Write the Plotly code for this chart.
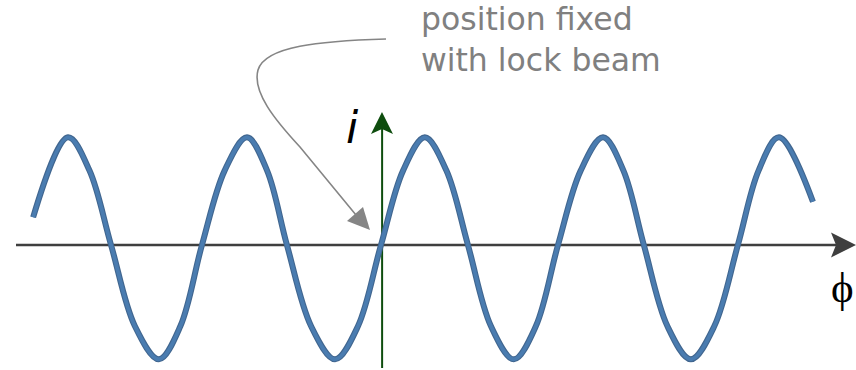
import plotly.graph_objects as go

W, H = 856, 370

# Signal i versus phase phi (rad)
phase = [-12.28, -11.05, -10.29, -9.53, -8.69, -7.84, -7.08, -6.32, -5.52, -4.73,
         -4.02, -3.32, -2.47, -1.62, -0.81, 0.0, 0.78, 1.55, 2.31, 3.07,
         3.88, 4.69, 5.47, 6.25, 7.05, 7.84, 8.56, 9.28, 10.11, 10.94,
         11.77, 12.60, 13.33, 14.05, 15.25]
signal = [0.25, 0.97, 0.67, 0.0, -0.73, -1.03, -0.73, 0.0, 0.67, 0.97,
          0.67, 0.0, -0.73, -1.03, -0.73, 0.0, 0.67, 0.97, 0.67, 0.0,
          -0.73, -1.03, -0.73, 0.0, 0.67, 0.97, 0.67, 0.0, -0.73, -1.03,
          -0.73, 0.0, 0.67, 0.97, 0.39]

X_RANGE = [-13.45, 16.77]
Y_RANGE = [-1.126, 2.207]

AXIS_GRAY = "#3f3f3f"
GREEN = "#0e4d0e"
POINTER_GRAY = "#858585"
TEXT_GRAY = "#808080"


def px(x, y):
    """pixel position -> paper fraction (plot area fills the figure)"""
    return x / W, 1 - y / H


def path(points, close=True):
    s = ""
    for k, (x, y) in enumerate(points):
        fx, fy = px(x, y)
        s += ("M" if k == 0 else "L") + f"{fx:.5f},{fy:.5f} "
    return s + ("Z" if close else "")


def bezier_path(segments):
    s = ""
    for seg in segments:
        cmd, pts = seg[0], seg[1:]
        s += cmd + " " + " ".join(f"{px(x, y)[0]:.5f},{px(x, y)[1]:.5f}" for x, y in pts) + " "
    return s


fig = go.Figure()
fig.add_trace(go.Scatter(x=phase, y=signal, mode="lines",
                         line=dict(color="#41668f", width=6, shape="spline", smoothing=1.0),
                         hoverinfo="skip", showlegend=False))
fig.add_trace(go.Scatter(x=phase, y=signal, mode="lines",
                         line=dict(color="#4a7cb0", width=3.8, shape="spline", smoothing=1.0),
                         hoverinfo="skip", showlegend=False))

shapes = []
# horizontal axis
shapes.append(dict(type="line", xref="paper", yref="y", x0=16 / W, x1=838 / W, y0=0, y1=0,
                   line=dict(color=AXIS_GRAY, width=2.5), layer="below"))
shapes.append(dict(type="path", xref="paper", yref="paper",
                   path=path([(831, 232.5), (856, 245), (831, 257.5), (836, 245)]),
                   fillcolor=AXIS_GRAY, line=dict(width=0)))
# vertical axis
shapes.append(dict(type="line", xref="x", yref="paper", x0=0.04, x1=0.04, y0=1 - 368 / H, y1=1 - 128 / H,
                   line=dict(color=GREEN, width=2), layer="below"))
shapes.append(dict(type="path", xref="paper", yref="paper",
                   path=path([(382, 112), (393, 134), (382, 129), (371, 134)]),
                   fillcolor=GREEN, line=dict(width=0)))
# curved pointer
shapes.append(dict(type="path", xref="paper", yref="paper",
                   path=bezier_path([("M", (386, 39)),
                                     ("C", (320, 41), (265, 46), (258, 70)),
                                     ("C", (252, 92), (275, 120), (300, 147)),
                                     ("L", (356, 215))]),
                   line=dict(color=POINTER_GRAY, width=1.6)))
shapes.append(dict(type="path", xref="paper", yref="paper",
                   path=path([(370, 230), (347, 221), (363, 207)]),
                   fillcolor=POINTER_GRAY, line=dict(width=0)))

annotations = [
    dict(text="position fixed<br>with lock beam", xref="paper", yref="paper",
         x=px(419, 0)[0], y=px(0, 39)[1], xanchor="left", yanchor="middle", align="left",
         showarrow=False, font=dict(family="DejaVu Sans", size=31.5, color=TEXT_GRAY)),
    dict(text="<i>i</i>", xref="paper", yref="paper",
         x=px(352, 0)[0], y=px(0, 127)[1], xanchor="center", yanchor="middle",
         showarrow=False, font=dict(family="DejaVu Sans", size=44, color="black")),
    dict(text="ϕ", xref="paper", yref="paper",
         x=px(842, 0)[0], y=px(0, 287)[1], xanchor="center", yanchor="middle",
         showarrow=False, font=dict(family="Liberation Serif", size=43, color="black")),
]

fig.update_layout(
    width=W, height=H, margin=dict(l=0, r=0, t=0, b=0),
    paper_bgcolor="white", plot_bgcolor="white",
    xaxis=dict(range=X_RANGE, visible=False, fixedrange=True),
    yaxis=dict(range=Y_RANGE, visible=False, fixedrange=True),
    shapes=shapes, annotations=annotations, showlegend=False,
)

fig.write_html("out.html", config={"displayModeBar": False},
               post_script="document.body.style.margin='0';document.body.style.overflow='hidden';")
